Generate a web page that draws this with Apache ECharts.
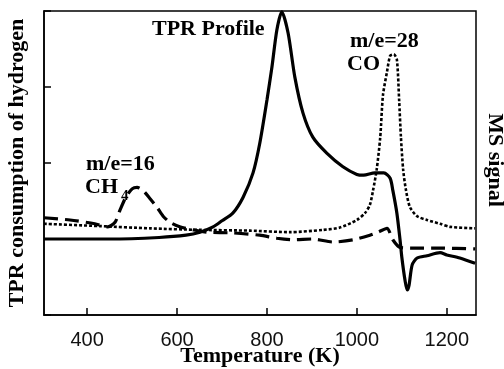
<!DOCTYPE html>
<html>
<head>
<meta charset="utf-8">
<script src="https://cdn.jsdelivr.net/npm/echarts@6/dist/echarts.min.js"></script>
<style>
  html, body { margin: 0; padding: 0; background: #fff; }
  #chart { width: 504px; height: 369px; }
</style>
</head>
<body>
<div id="chart"></div>
<script>
// temperature ticks on the x axis
const xTicks = [400, 600, 800, 1000, 1200];

// TPR profile (solid)
const tprT = [304, 450, 560, 620, 651, 680, 700, 724, 747, 769, 784, 800, 811, 822, 833, 847, 862, 880, 902, 933, 969, 1000, 1015, 1040, 1060, 1074, 1080, 1089, 1096, 1100, 1107, 1112, 1116, 1123, 1134, 1156, 1185, 1200, 1229, 1263];
const tprV = [1.00, 1.00, 1.02, 1.05, 1.09, 1.16, 1.24, 1.34, 1.55, 1.87, 2.26, 2.83, 3.26, 3.75, 3.99, 3.71, 3.13, 2.66, 2.34, 2.13, 1.95, 1.85, 1.84, 1.87, 1.87, 1.80, 1.64, 1.34, 0.99, 0.76, 0.46, 0.33, 0.39, 0.66, 0.75, 0.78, 0.82, 0.79, 0.75, 0.68];

// m/e=28 CO (dotted)
const coT = [304, 428, 540, 651, 762, 851, 925, 962, 1000, 1018, 1029, 1036, 1044, 1052, 1058, 1067, 1074, 1082, 1089, 1094, 1098, 1103, 1109, 1118, 1134, 1156, 1185, 1207, 1263];
const coV = [1.20, 1.17, 1.14, 1.12, 1.11, 1.09, 1.12, 1.15, 1.25, 1.34, 1.45, 1.64, 1.91, 2.34, 2.89, 3.20, 3.41, 3.43, 3.36, 2.83, 2.34, 1.91, 1.65, 1.42, 1.30, 1.25, 1.20, 1.16, 1.14];

// m/e=16 CH4 (dashed)
const ch4T = [304, 362, 417, 446, 462, 473, 486, 500, 511, 524, 540, 555, 569, 584, 606, 636, 666, 724, 784, 822, 858, 902, 947, 992, 1029, 1047, 1067, 1080, 1096, 1129, 1185, 1263];
const ch4V = [1.28, 1.25, 1.20, 1.16, 1.22, 1.38, 1.55, 1.66, 1.68, 1.64, 1.53, 1.42, 1.30, 1.22, 1.16, 1.12, 1.09, 1.08, 1.05, 1.01, 0.99, 1.00, 0.96, 0.99, 1.05, 1.09, 1.14, 0.99, 0.89, 0.88, 0.88, 0.87];

const pairs = (xs, ys) => xs.map((x, i) => [x, ys[i]]);

const serif = 'Liberation Serif';
const nameStyle = { fontFamily: serif, fontWeight: 'bold', fontSize: 22, color: '#000' };
const noteFont = 'bold 22px "Liberation Serif"';

const chart = echarts.init(document.getElementById('chart'), null, { renderer: 'canvas' });

const option = {
  animation: false,
  backgroundColor: '#fff',
  grid: {
    left: 44, right: 28, top: 11, bottom: 54,
    outerBoundsMode: 'none',
    containLabel: false,
    show: true, borderColor: '#000', borderWidth: 1.5, backgroundColor: 'transparent'
  },
  xAxis: {
    type: 'value',
    min: 304,
    max: 1265,
    name: 'Temperature (K)',
    nameLocation: 'middle',
    nameGap: 30,
    nameMoveOverlap: false,
    nameTextStyle: nameStyle,
    splitLine: { show: false },
    axisLine: { lineStyle: { color: '#000', width: 1.5 } },
    axisTick: { inside: true, length: 7, customValues: xTicks, lineStyle: { color: '#000', width: 1.5 } },
    axisLabel: {
      customValues: xTicks, margin: 15,
      fontFamily: 'Liberation Sans', fontSize: 20, color: '#111',
      formatter: v => String(v)
    }
  },
  yAxis: {
    type: 'value',
    min: 0, max: 4, interval: 1,
    name: 'TPR consumption of hydrogen',
    nameLocation: 'middle',
    nameGap: 16,
    nameMoveOverlap: false,
    nameTextStyle: nameStyle,
    splitLine: { show: false },
    axisLine: { show: true, lineStyle: { color: '#000', width: 1.5 } },
    axisTick: { inside: true, length: 7, lineStyle: { color: '#000', width: 1.5 } },
    axisLabel: { show: false }
  },
  series: [
    {
      name: 'TPR Profile',
      type: 'line',
      data: pairs(tprT, tprV),
      showSymbol: false,
      smooth: 0.25,
      lineStyle: { color: '#000', width: 3.2 }
    },
    {
      name: 'CO',
      type: 'line',
      data: pairs(coT, coV),
      showSymbol: false,
      smooth: 0.25,
      lineStyle: { color: '#000', width: 2.6, type: [3, 2] }
    },
    {
      name: 'CH4',
      type: 'line',
      data: pairs(ch4T, ch4V),
      showSymbol: false,
      smooth: 0.25,
      lineStyle: { color: '#000', width: 3.2, type: [14, 7] }
    }
  ],
  graphic: [
    // right-hand axis title, reads top to bottom
    {
      type: 'text', x: 495, y: 160, rotation: -Math.PI / 2,
      style: { text: 'MS signal', font: noteFont, fill: '#000', align: 'center', verticalAlign: 'middle' }
    },
    { type: 'text', left: 152, top: 18, style: { text: 'TPR Profile', font: noteFont, fill: '#000' } },
    { type: 'text', left: 350, top: 30, style: { text: 'm/e=28', font: noteFont, fill: '#000' } },
    { type: 'text', left: 347, top: 53, style: { text: 'CO', font: noteFont, fill: '#000' } },
    { type: 'text', left: 86, top: 153, style: { text: 'm/e=16', font: noteFont, fill: '#000' } },
    { type: 'text', left: 85, top: 176, style: { text: 'CH', font: noteFont, fill: '#000' } },
    { type: 'text', left: 121, top: 189, style: { text: '4', font: 'bold 15px "Liberation Serif"', fill: '#000' } }
  ]
};

chart.setOption(option);
</script>
</body>
</html>
